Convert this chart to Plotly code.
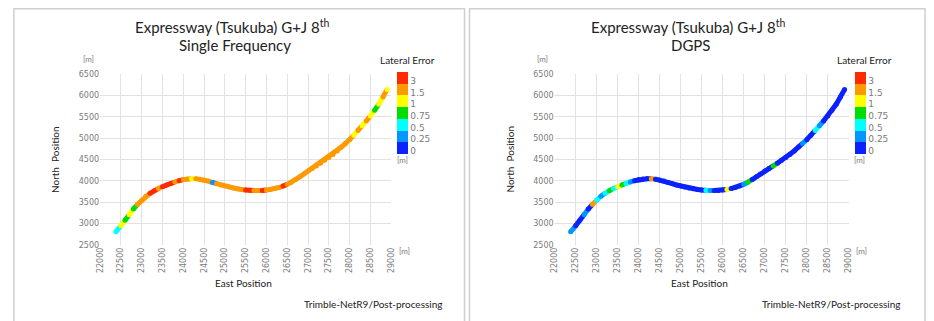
import numpy as np
import plotly.graph_objects as go

# ---------------- data ----------------
east = [22380, 22500, 22600, 22700, 22800, 22900, 23000, 23100, 23200, 23300,
        23400, 23500, 23600, 23700, 23800, 23900, 24000, 24100, 24200, 24300,
        24400, 24500, 24600, 24700, 24800, 24900, 25000, 25100, 25200, 25300,
        25400, 25500, 25600, 25700, 25800, 25900, 26000, 26100, 26200, 26300,
        26400, 26500, 26600, 26700, 26800, 26900, 27000, 27100, 27200, 27300,
        27400, 27500, 27600, 27700, 27800, 27900, 28000, 28100, 28200, 28300,
        28400, 28500, 28600, 28700, 28800, 28900]
north = [2810, 2950, 3080, 3210, 3340, 3450, 3550, 3640, 3710, 3770,
         3820, 3865, 3905, 3940, 3975, 4005, 4030, 4045, 4052, 4052,
         4040, 4020, 3995, 3965, 3935, 3905, 3880, 3855, 3835, 3815,
         3800, 3788, 3780, 3775, 3775, 3778, 3785, 3800, 3820, 3845,
         3880, 3920, 3970, 4030, 4095, 4160, 4230, 4290, 4350, 4415,
         4480, 4545, 4620, 4700, 4790, 4875, 4965, 5070, 5180, 5290,
         5400, 5520, 5650, 5790, 5960, 6140]

# lateral error [m] - single frequency
err_single = [0.5, 1.2, 0.9, 1.1, 0.8, 1.6, 2.0, 2.5, 3.2, 3.5,
              2.8, 3.3, 3.4, 3.1, 2.6, 3.2, 2.2, 2.0, 1.2, 2.0,
              2.0, 2.0, 2.0, 0.4, 2.0, 2.0, 2.0, 2.0, 2.0, 2.0,
              2.0, 3.2, 3.3, 2.0, 2.0, 3.1, 2.0, 2.0, 2.0, 2.0,
              3.2, 2.0, 2.0, 2.0, 2.0, 2.0, 2.0, 2.0, 2.0, 2.0,
              2.0, 2.0, 2.0, 1.6, 2.0, 1.6, 2.0, 1.2, 1.6, 1.2,
              1.6, 1.2, 0.8, 1.2, 1.6, 1.2]
# lateral error [m] - DGPS
err_dgps = [0.3, 0.2, 0.1, 0.3, 0.1, 2.0, 0.6, 0.3, 0.6, 0.8,
            0.6, 1.2, 0.8, 0.6, 0.3, 0.1, 0.1, 0.1, 0.1, 2.0,
            0.1, 0.1, 0.1, 0.1, 0.1, 0.1, 0.1, 0.1, 0.1, 0.1,
            0.1, 0.1, 0.6, 0.3, 0.1, 0.1, 0.1, 1.2, 0.1, 0.1,
            0.1, 0.3, 0.8, 0.1, 0.1, 0.1, 0.1, 0.1, 0.8, 0.1,
            0.1, 0.1, 0.1, 0.1, 0.1, 0.3, 0.1, 0.1, 0.6, 0.3,
            0.1, 0.1, 0.1, 0.1, 0.1, 0.1]

class_labels = ["0", "0.25", "0.5", "0.75", "1", "1.5", "3"]
class_edges = [0.25, 0.5, 0.75, 1.0, 1.5, 3.0]
class_colors = ["#0a22ff", "#0096ff", "#00ffff", "#00dd00", "#ffff00", "#ff9900", "#ff2a00"]

x_ticks = list(range(22000, 29001, 500))
y_ticks = list(range(2500, 6501, 500))

W, H = 934, 321

def px(xp):
    return xp / W

def py(yp):
    return 1 - yp / H

panels = [
    dict(err=err_single, sub="Single Frequency", xd=(97, 391), cbx=397, ax="", ca="coloraxis"),
    dict(err=err_dgps, sub="DGPS", xd=(556, 853), cbx=859, ax="2", ca="coloraxis2"),
]

fig = go.Figure()
n = len(class_colors)
cscale = []
for i, c in enumerate(class_colors):
    cscale += [[i / n, c], [(i + 1) / n, c]]

font_main = "Lato, 'Open Sans', sans-serif"
gray = "#7a7a7a"

for p in panels:
    cls = np.digitize(np.array(p["err"]), class_edges)
    xa = "x" + p["ax"]
    ya = "y" + p["ax"]
    # colored runs of the track
    start = 0
    for i in range(1, len(cls) + 1):
        if i == len(cls) or cls[i] != cls[start]:
            end = min(i, len(cls) - 1)
            fig.add_trace(go.Scatter(
                x=east[start:end + 1], y=north[start:end + 1], mode="lines",
                line=dict(color=class_colors[cls[start]], width=5),
                xaxis=xa, yaxis=ya, showlegend=False, hoverinfo="skip"))
            start = i
    fig.add_trace(go.Scatter(
        x=east, y=north, mode="markers",
        marker=dict(size=5, color=cls, coloraxis=p["ca"], line=dict(width=0)),
        xaxis=xa, yaxis=ya, showlegend=False))

    x0, x1 = p["xd"]
    cx = (x0 + x1) / 2 - 6
    fig.layout[p["ca"]] = dict(
        cmin=-0.5, cmax=6.5, colorscale=cscale,
        colorbar=dict(
            x=px(p["cbx"]), xanchor="left", y=py(112), yanchor="middle",
            len=82, lenmode="pixels", thickness=11, outlinewidth=0,
            tickvals=[i - 0.25 for i in range(n)], ticktext=class_labels,
            ticks="", xpad=0, ypad=0,
            tickfont=dict(size=9, color=gray, family="'DejaVu Sans', sans-serif"),
        ))
    fig.layout["xaxis" + p["ax"]] = dict(
        domain=[px(x0), px(x1)], anchor=ya, range=[22000, 29000],
        tickvals=x_ticks, tickformat="d", tickangle=-90, ticks="",
        tickfont=dict(size=8, color=gray, family="'DejaVu Sans', sans-serif"),
        showgrid=True, gridcolor="#e2e2e2", gridwidth=1, zeroline=False, showline=False)
    fig.layout["yaxis" + p["ax"]] = dict(
        domain=[py(248), py(72)], anchor=xa, range=[2500, 6500],
        tickvals=y_ticks, tickformat="d", ticks="",
        tickfont=dict(size=8, color=gray, family="'DejaVu Sans', sans-serif"),
        showgrid=True, gridcolor="#e2e2e2", gridwidth=1, zeroline=False, showline=False)

    ann = [
        dict(x=px(cx - 8), y=py(23), text="Expressway (Tsukuba) G+J 8<sup>th</sup>", size=15, color="#222"),
        dict(x=px(cx - 5), y=py(42), text=p["sub"], size=15, color="#222"),
        dict(x=px(p["cbx"] + 10), y=py(58), text="Lateral Error", size=10, color="#222"),
        dict(x=px(p["cbx"] + 5), y=py(160), text="[m]", size=8, color=gray),
        dict(x=px(x0 - 12), y=py(57), text="[m]", size=8, color=gray),
        dict(x=px(x1 + 13), y=py(254), text="[m]", size=8, color=gray),
        dict(x=px(cx + 4), y=py(287), text="East Position", size=10, color="#222"),
        dict(x=px(x1 - 18), y=py(309), text="Trimble-NetR9/Post-processing", size=10, color="#222"),
    ]
    for a in ann:
        fig.add_annotation(x=a["x"], y=a["y"], xref="paper", yref="paper",
                           text=a["text"], showarrow=False, xanchor="center", yanchor="middle",
                           font=dict(size=a["size"], color=a["color"], family=font_main))
    fig.add_annotation(x=px(x0 - 46), y=py(160), xref="paper", yref="paper",
                       text="North  Position", showarrow=False, textangle=-90,
                       xanchor="center", yanchor="middle",
                       font=dict(size=10, color="#222", family=font_main))

# panel frames
for (a, b) in [(10, 465), (470, 930)]:
    fig.add_shape(type="rect", xref="paper", yref="paper",
                  x0=px(a), x1=px(b), y0=-0.05, y1=py(5),
                  line=dict(color="#cfcfcf", width=1.5), layer="below")

fig.update_layout(width=W, height=H, margin=dict(l=0, r=0, t=0, b=0),
                  paper_bgcolor="white", plot_bgcolor="white", showlegend=False)

fig.write_html("out.html", config={"displayModeBar": False},
               post_script="document.body.style.margin='0px';")
